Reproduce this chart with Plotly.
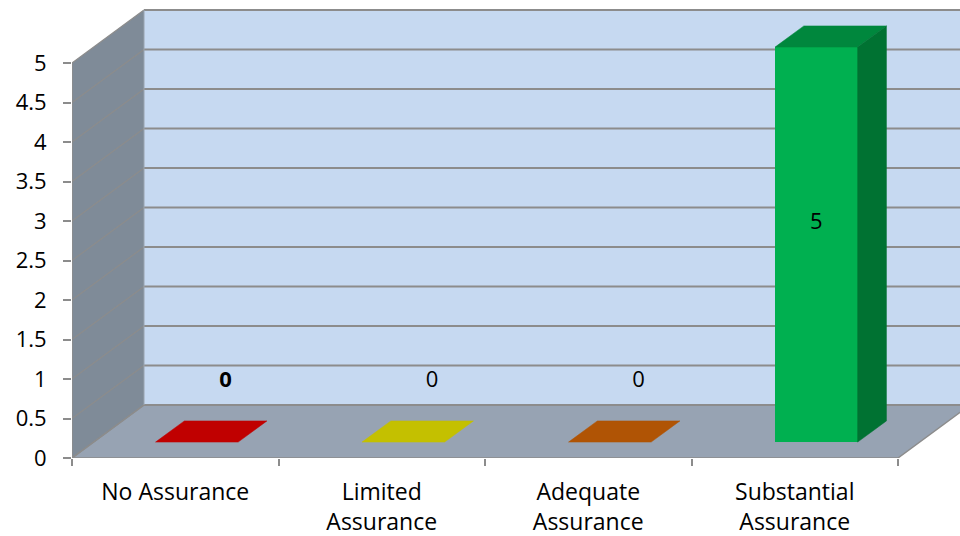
import plotly.graph_objects as go

# ---- data ----
categories = ["No Assurance", "Limited<br>Assurance", "Adequate<br>Assurance", "Substantial<br>Assurance"]
values = [0, 0, 0, 5]
front_colors = ["#C00000", "#C4C000", "#B05405", "#00B050"]
top_colors = ["#C00000", "#C4C000", "#B05405", "#00873D"]
side_colors = ["#A00000", "#A4A000", "#904404", "#007232"]
label_bold = [True, False, False, False]
y_ticks = [0, 0.5, 1, 1.5, 2, 2.5, 3, 3.5, 4, 4.5, 5]
y_max = 5

# ---- 3D projection parameters (data units) ----
PX_PER_CAT = 206.5
PX_PER_UNIT = 79.0
DX = 72 / PX_PER_CAT       # full depth horizontal offset
DY = 53 / PX_PER_UNIT      # full depth vertical offset
BAR_W = 0.4
D0, D1 = 0.3, 0.7          # bar depth span (fraction of full depth)

n = len(categories)
x0, x1 = -0.5, n - 0.5

WALL = "#C6D9F1"
SIDE = "#7F8B98"
FLOOR = "#97A3B3"
GRID = "#8C8C8C"

shapes = []
# back wall
shapes.append(dict(type="path", xref="x", yref="y", layer="below",
                   path=f"M{x0+DX},{DY} L{x1+DX},{DY} L{x1+DX},{y_max+DY} L{x0+DX},{y_max+DY} Z",
                   fillcolor=WALL, line=dict(width=0)))
# side wall
shapes.append(dict(type="path", xref="x", yref="y", layer="below",
                   path=f"M{x0},0 L{x0},{y_max} L{x0+DX},{y_max+DY} L{x0+DX},{DY} Z",
                   fillcolor=SIDE, line=dict(width=0)))
# floor
shapes.append(dict(type="path", xref="x", yref="y", layer="below",
                   path=f"M{x0},0 L{x1},0 L{x1+DX},{DY} L{x0+DX},{DY} Z",
                   fillcolor=FLOOR, line=dict(color=GRID, width=1.5)))
# gridlines on back wall and side wall
for v in y_ticks:
    shapes.append(dict(type="line", xref="x", yref="y", layer="below",
                       x0=x0+DX, x1=x1+DX, y0=v+DY, y1=v+DY,
                       line=dict(color=GRID, width=2)))
    shapes.append(dict(type="line", xref="x", yref="y", layer="below",
                       x0=x0, x1=x0+DX, y0=v, y1=v+DY,
                       line=dict(color=GRID, width=1.2)))
# y axis line
shapes.append(dict(type="line", xref="x", yref="y", layer="below",
                   x0=x0, x1=x0, y0=0, y1=y_max, line=dict(color=GRID, width=1.5)))
# back wall left edge
shapes.append(dict(type="line", xref="x", yref="y", layer="below",
                   x0=x0+DX, x1=x0+DX, y0=DY, y1=y_max+DY, line=dict(color="#9AA4B0", width=1)))

fig = go.Figure()

base = D0 * DY
xs_front = [i + D0 * DX for i in range(n)]

# front faces
fig.add_trace(go.Bar(x=xs_front, y=values, base=[base] * n, width=BAR_W,
                     marker=dict(color=front_colors, line=dict(width=0)),
                     hoverinfo="skip", showlegend=False))

bdx = (D1 - D0) * DX
bdy = (D1 - D0) * DY
for i, v in enumerate(values):
    xl = xs_front[i] - BAR_W / 2
    xr = xs_front[i] + BAR_W / 2
    yt = base + v
    # top face
    fig.add_trace(go.Scatter(x=[xl, xr, xr + bdx, xl + bdx, xl],
                             y=[yt, yt, yt + bdy, yt + bdy, yt],
                             mode="lines", fill="toself", fillcolor=top_colors[i],
                             line=dict(width=0.5, color=top_colors[i]),
                             hoverinfo="skip", showlegend=False))
    if v > 0:
        fig.add_trace(go.Scatter(x=[xr, xr + bdx, xr + bdx, xr, xr],
                                 y=[base, base + bdy, yt + bdy, yt, base],
                                 mode="lines", fill="toself", fillcolor=side_colors[i],
                                 line=dict(width=0.5, color=side_colors[i]),
                                 hoverinfo="skip", showlegend=False))

# data labels
lx, ly, lt = [], [], []
for i, v in enumerate(values):
    if v > 0:
        lx.append(xs_front[i])
        ly.append(base + bdy + v / 2)
    else:
        lx.append(i + D1 * DX)
        ly.append(base + v + bdy + 0.5)
    t = f"{v:g}"
    lt.append(f"<b>{t}</b>" if label_bold[i] else t)
fig.add_trace(go.Scatter(x=lx, y=ly, text=lt, mode="text", textposition="middle center",
                         textfont=dict(family="Open Sans", size=22, color="#000000"),
                         hoverinfo="skip", showlegend=False))

W, H = 960, 536
ml, mb = 72, 78
plot_w = W - ml
plot_h = H - mb

fig.update_layout(
    width=W, height=H,
    margin=dict(l=ml, r=0, t=0, b=mb),
    paper_bgcolor="white", plot_bgcolor="white",
    shapes=shapes,
    font=dict(family="Open Sans", size=22, color="#000000"),
    xaxis=dict(range=[x0, x0 + plot_w / PX_PER_CAT],
               tickvals=list(range(n)), ticktext=categories,
               ticks="", showgrid=False, zeroline=False, showline=False,
               tickfont=dict(size=23),
               ticklabelstandoff=18,
               minor=dict(tickvals=[i - 0.5 for i in range(n + 1)], ticks="outside",
                          ticklen=7, tickwidth=1.5, tickcolor=GRID, showgrid=False),
               fixedrange=True),
    yaxis=dict(range=[0, plot_h / PX_PER_UNIT], tickvals=y_ticks,
               ticks="outside", ticklen=8, tickwidth=1.5, tickcolor=GRID,
               showgrid=False, zeroline=False, showline=False,
               ticklabelstandoff=12, fixedrange=True),
    bargap=0,
)

fig.write_html("out.html")
